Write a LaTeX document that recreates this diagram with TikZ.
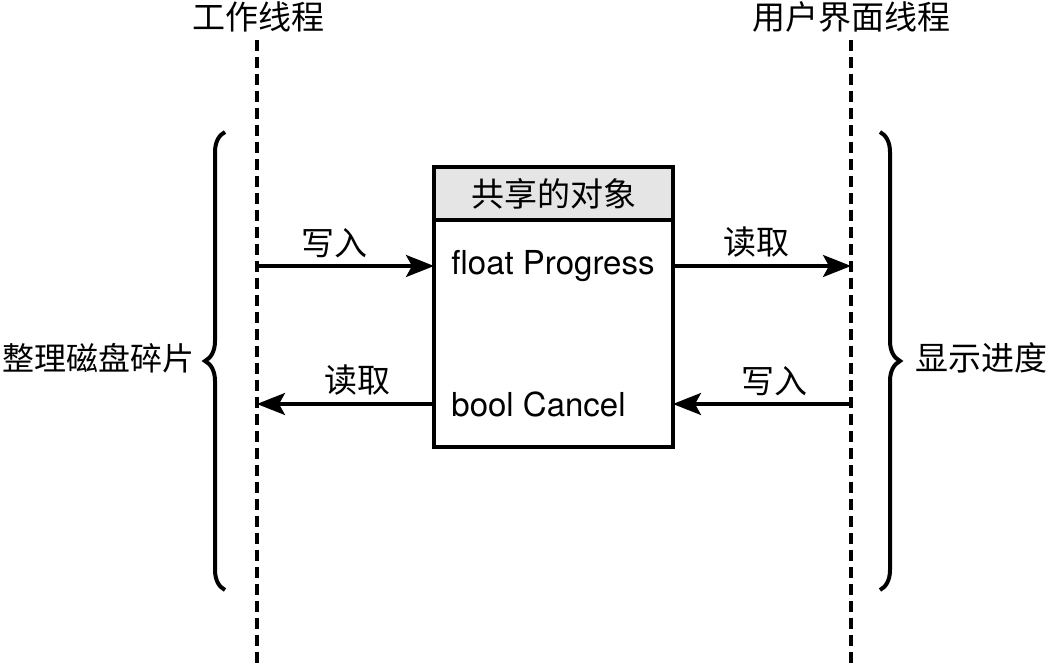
\documentclass[tikz,border=0pt]{standalone}
\usepackage{fontspec}
\setmainfont{TeX Gyre Heros}
\newfontfamily\cjk{Noto Sans CJK SC}
\usetikzlibrary{arrows.meta,decorations.pathreplacing,positioning}

\tikzset{
  thread/.style={line width=2pt, dash pattern=on 5.5pt off 3pt},
  flow/.style={line width=1.7pt, -{Stealth[length=14pt,width=11pt,inset=3pt]}},
  objbox/.style={draw, line width=2pt, outer sep=0pt, minimum width=119.5pt},
  cjklabel/.style={font=\fontsize{16.5}{19}\selectfont\cjk},
  field/.style={anchor=west, font=\fontsize{16.5}{19}\selectfont, inner sep=0pt},
  bracket/.style={line width=2pt, decorate, decoration={brace, amplitude=10pt}}
}

\begin{document}
\begin{tikzpicture}[x=0.5pt,y=-0.5pt]
  \useasboundingbox (0,0) rectangle (1046,668);

  % the two threads
  \coordinate (wtop) at (257,40);
  \coordinate (wbot) at (257,668);
  \coordinate (utop) at (851,40);
  \coordinate (ubot) at (851,668);
  \draw [thread] (wtop) -- (wbot);
  \draw [thread] (utop) -- (ubot);
  \node [cjklabel] (wtitle) at (258,17) {工作线程};
  \node [cjklabel] (utitle) at (851,17) {用户界面线程};

  % shared object
  \node [objbox, fill=gray!20, minimum height=26.5pt, cjklabel] (head) at (553.5,193.5) {共享的对象};
  \node [objbox, minimum height=113.5pt, below=0pt of head] (body) {};
  \node [field] (prog) at (451,266) {float Progress};
  \node [field] (cancel) at (451,404) {bool Cancel};

  % reads and writes
  \draw [flow] (wtop |- prog) -- node [cjklabel, above, pos=0.44]{写入} (body.west |- prog);
  \draw [flow] (body.east |- prog) -- node [cjklabel, above, pos=0.47]{读取} (utop |- prog);
  \draw [flow] (body.west |- cancel) -- node [cjklabel, above, pos=0.43]{读取} (wtop |- cancel);
  \draw [flow] (utop |- cancel) -- node [cjklabel, above, pos=0.43]{写入} (body.east |- cancel);

  % braces
  \coordinate (lb1) at (225,590);
  \coordinate (lb2) at (225,132);
  \coordinate (rb1) at (880,132);
  \coordinate (rb2) at (880,590);
  \draw [bracket] (lb1) -- (lb2);
  \draw [bracket] (rb1) -- (rb2);
  \node [cjklabel, font=\fontsize{16}{19}\selectfont\cjk, anchor=east, inner sep=0pt] (defrag) at (195,358) {整理磁盘碎片};
  \node [cjklabel, anchor=west, inner sep=0pt] (progress) at (915,358) {显示进度};
\end{tikzpicture}
\end{document}
